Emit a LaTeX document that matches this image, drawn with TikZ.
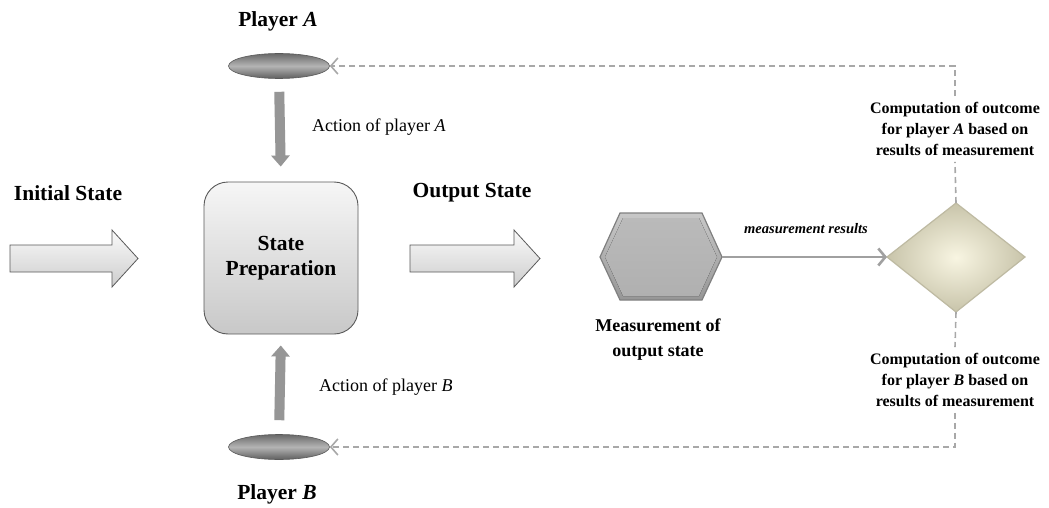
\documentclass[tikz,border=0pt]{standalone}
\usepackage{fontspec}
\setmainfont{Liberation Serif}
\usetikzlibrary{shapes.geometric,arrows.meta}
\definecolor{dashgray}{RGB}{168,168,168}
\definecolor{linegray}{RGB}{160,160,160}
\definecolor{edgegray}{RGB}{90,90,90}
\definecolor{shaftgray}{RGB}{150,150,150}
\definecolor{elldark}{RGB}{105,105,105}
\definecolor{elllight}{RGB}{180,180,180}
\definecolor{hexTop}{RGB}{200,200,200}
\definecolor{hexBot}{RGB}{150,150,150}
\definecolor{hexedge}{RGB}{128,128,128}
\definecolor{diain}{RGB}{248,245,226}
\definecolor{diaout}{RGB}{200,196,170}
\definecolor{prepTop}{RGB}{246,246,246}
\definecolor{prepBot}{RGB}{200,200,200}
\definecolor{arrTop}{RGB}{250,250,250}
\definecolor{arrBot}{RGB}{205,205,205}
\definecolor{hexInTop}{RGB}{186,186,186}
\definecolor{hexInBot}{RGB}{176,176,176}
\tikzset{
  lbl/.style={font=\bfseries\fontsize{21.5}{24}\selectfont, inner sep=2pt},
  act/.style={font=\fontsize{18}{21}\selectfont, inner sep=2pt},
  comp/.style={font=\bfseries\fontsize{16}{21}\selectfont, align=center, inner sep=6pt},
  prepbox/.style={draw=edgegray, line width=0.9pt, rounded corners=24pt,
    minimum width=154pt, minimum height=152pt, align=center,
    top color=prepTop, bottom color=prepBot,
    font=\bfseries\fontsize{21.5}{25}\selectfont},
  player/.style={ellipse, draw=elldark!85!black, line width=0.6pt, minimum width=101pt, minimum height=25pt,
    top color=elldark, bottom color=elldark!90!black, middle color=elllight, inner sep=0pt},
  blockarrow/.style={draw=edgegray, line width=0.8pt, top color=arrTop, bottom color=arrBot},
  vact/.style={draw=shaftgray, line width=10pt, -{Triangle[length=11pt,width=18pt]}},
  dline/.style={draw=dashgray, line width=1.6pt, dash pattern=on 6pt off 4pt},
  dtip/.style={-{Straight Barb[length=7pt,width=16pt,line width=1.6pt]}},
  mline/.style={draw=linegray, line width=2.6pt, -{Straight Barb[length=7pt,width=17pt]}},
}
\begin{document}
\begin{tikzpicture}[x=1pt,y=-1pt]
\useasboundingbox[fill=white] (0,0) rectangle (1049,508);

% labels
\node[lbl] (initlbl) at (68,193) {Initial State};
\node[lbl] (outlbl) at (472,193) {Output State};
\node[lbl] (plAlbl) at (278,21) {Player \textit{A}};
\node[lbl] (plBlbl) at (277,494) {Player \textit{B}};

% block arrows
\draw[blockarrow] (10,245) -- (112,245) -- (112,230) -- (138,258.5) -- (112,287) -- (112,272) -- (10,272) -- cycle;
\draw[blockarrow] (410,245) -- (514,245) -- (514,230) -- (540,258.5) -- (514,287) -- (514,272) -- (410,272) -- cycle;

% state preparation
\node[prepbox] (prep) at (281,258) {State\\Preparation};

% players
\node[player] (plA) at (279,66) {};
\node[player] (plB) at (279,447) {};

\draw[vact, shorten <=13pt, shorten >=15pt] (plA.south) -- (prep.north);
\draw[vact, shorten <=14pt, shorten >=11pt] (plB.north) -- (prep.south);

\node[act, anchor=west] (actA) at (310,127) {Action of player \textit{A}};
\node[act, anchor=west] (actB) at (317,387) {Action of player \textit{B}};

% measurement hexagon
\coordinate (measW) at (600,257);
\coordinate (measE) at (722,257);
\draw[draw=hexedge, line width=1.2pt, top color=hexTop, bottom color=hexBot]
  (measW) -- (620,213) -- (702,213) -- (measE) -- (702,300) -- (620,300) -- cycle;
\fill[top color=hexInTop, bottom color=hexInBot]
  (605,257) -- (623,218) -- (699,218) -- (717,257) -- (699,296) -- (623,296) -- cycle;
\node[font=\bfseries\fontsize{18}{25}\selectfont, align=center] (measlbl) at (658,340) {Measurement of\\output state};

% diamond
\coordinate (diaW) at (887,257);
\coordinate (diaE) at (1025,257);
\coordinate (diaN) at (956,203);
\coordinate (diaS) at (956,312);
\shade[inner color=diain, outer color=diaout] (diaW) -- (diaN) -- (diaE) -- (diaS) -- cycle;
\draw[draw=diaout!95!black, line width=1.2pt] (diaW) -- (diaN) -- (diaE) -- (diaS) -- cycle;

\draw[mline] (measE) -- (diaW);
\node[font=\bfseries\itshape\fontsize{14.5}{17}\selectfont] (mres) at (806,229) {measurement results};

% computation texts
\node[comp] (compA) at (955,129) {Computation of outcome\\for player \textit{A} based on\\results of measurement};
\node[comp] (compB) at (955,380) {Computation of outcome\\for player \textit{B} based on\\results of measurement};

\draw[dline] (diaN) -- (compA.south);
\draw[dline] (diaS) -- (compB.north);
\draw[dline, dtip] (compA.north) |- (plA.east);
\draw[dline, dtip] (compB.south) |- (plB.east);
\end{tikzpicture}
\end{document}
